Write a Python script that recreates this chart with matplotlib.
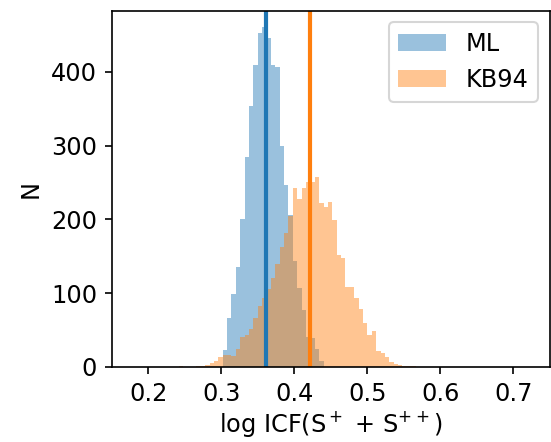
import numpy as np
import matplotlib
matplotlib.use("Agg")
import matplotlib.pyplot as plt

# ---- data ----
bin_width = 0.006
ml_first_edge = 0.302
ml_counts = [23, 66, 99, 136, 201, 285, 353, 409, 453, 460, 446, 409, 407,
             300, 246, 206, 143, 107, 77, 41, 39, 24, 8]

kb_first_edge = 0.242
kb_counts = [1, 0, 0, 0, 1, 1, 3, 5, 8, 13,
             16, 16, 15, 25, 41, 43, 51, 67, 82, 93, 106, 120, 140, 163, 181, 204,
             243, 228, 243, 250, 250, 258,
             222, 217, 224, 199, 152, 148, 109, 109, 93, 78, 59, 44, 49, 21, 19,
             14, 7, 4, 3, 1, 1, 2]

ml_median = 0.3614
kb_median = 0.4214

labels = ["ML", "KB94"]
xlabel = r"log ICF(S$^+$ + S$^{++}$)"
ylabel = "N"
xticks = [0.2, 0.3, 0.4, 0.5, 0.6, 0.7]
yticks = [0, 100, 200, 300, 400]

# ---- plotting ----
plt.rcParams["font.size"] = 11.5

ml_edges = ml_first_edge + bin_width * np.arange(len(ml_counts) + 1)
kb_edges = kb_first_edge + bin_width * np.arange(len(kb_counts) + 1)
ml_centers = 0.5 * (ml_edges[:-1] + ml_edges[1:])
kb_centers = 0.5 * (kb_edges[:-1] + kb_edges[1:])

fig = plt.figure(figsize=(551 / 150, 442 / 150), dpi=150)
ax = fig.add_axes([0.2027, 0.1697, 0.7955, 0.8065])

ax.hist(ml_centers, bins=ml_edges, weights=ml_counts, color="C0", alpha=0.45,
        label=labels[0])
ax.hist(kb_centers, bins=kb_edges, weights=kb_counts, color="C1", alpha=0.45,
        label=labels[1])
ax.axvline(ml_median, color="C0", lw=2)
ax.axvline(kb_median, color="C1", lw=2)

ax.set_xlim(0.15, 0.75)
ax.set_xticks(xticks)
ax.set_yticks(yticks)
ax.set_xlabel(xlabel, labelpad=1.5)
ax.set_ylabel(ylabel)
ax.legend(loc="upper right")

fig.savefig("out.png", dpi=150)
